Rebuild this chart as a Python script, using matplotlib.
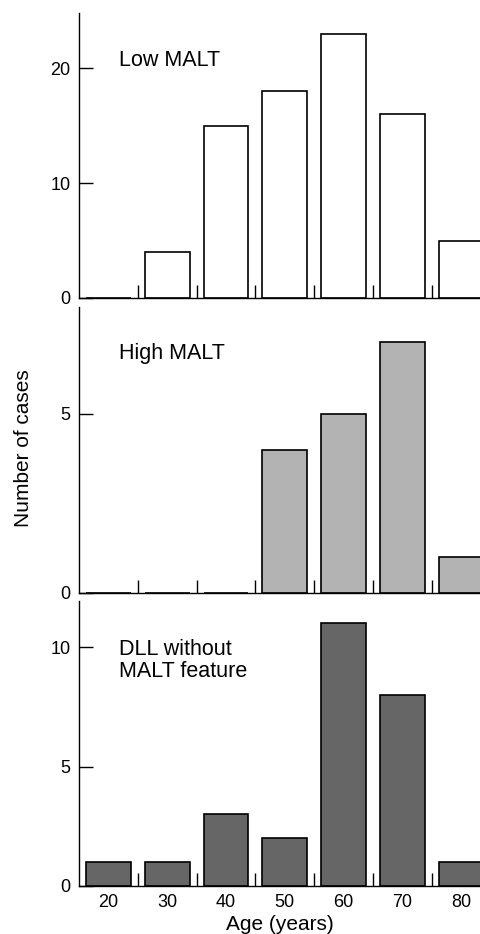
import matplotlib
matplotlib.use('Agg')
from matplotlib import pyplot as plt

plt.rcParams['font.family'] = ['Liberation Sans', 'DejaVu Sans']

ages = [20, 30, 40, 50, 60, 70, 80]
low_malt = [0, 4, 15, 18, 23, 16, 5]
high_malt = [0, 0, 0, 4, 5, 7, 1]
dll_no_malt = [1, 1, 3, 2, 11, 8, 1]

panels = [
    (low_malt, 'white', 'Low MALT', [0, 10, 20], 24.8, 0.835),
    (high_malt, '#b3b3b3', 'High MALT', [0, 5], 7.98, 0.835),
    (dll_no_malt, '#666666', 'DLL without\nMALT feature', [0, 5, 10], 11.95, 0.79),
]
boxes = [(0.681, 0.986), (0.3651, 0.6716), (0.0514, 0.3569)]

fig = plt.figure(figsize=(4.8, 9.34), dpi=100)
left = 0.1646

for (vals, color, label, yt, ytop, ty), (b, t) in zip(panels, boxes):
    ax = fig.add_axes([left, b, 1.0 - left, t - b])
    ax.bar(ages, vals, width=7.65, color=color, edgecolor='black', linewidth=1.2, zorder=2)
    ax.set_xlim(15, 83.2)
    ax.set_ylim(0, ytop)
    ax.spines['top'].set_visible(False)
    ax.spines['right'].set_visible(False)
    ax.spines['left'].set_linewidth(1.0)
    ax.spines['bottom'].set_linewidth(1.0)
    ax.spines['bottom'].set_zorder(3)
    ax.set_yticks(yt)
    ax.tick_params(axis='y', direction='in', length=10, width=1.0, labelsize=13, pad=6)
    ax.set_xticks(ages)
    ax.set_xticks([25, 35, 45, 55, 65, 75], minor=True)
    ax.tick_params(axis='x', which='major', length=0, labelsize=13, pad=6)
    ax.tick_params(axis='x', which='minor', direction='in', length=9.5, width=1.0)
    ax.text(0.0998, ty, label, transform=ax.transAxes, fontsize=15.5,
            va='center', ha='left', linespacing=1.1)
    if b > 0.1:
        ax.set_xticklabels([])
    else:
        ax.set_xlabel('Age (years)', fontsize=15, labelpad=3)

fig.text(0.05, 0.52, 'Number of cases', rotation=90, fontsize=15,
         va='center', ha='center')

plt.savefig('out.png', dpi=100)
